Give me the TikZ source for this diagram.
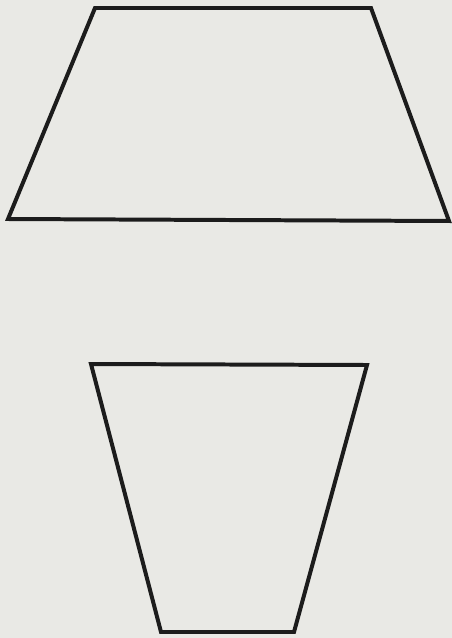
\documentclass[tikz,border=0pt]{standalone}
\usepackage{xcolor}
\definecolor{paper}{RGB}{233,233,229}
\definecolor{ink}{RGB}{28,28,28}

\begin{document}
\begin{tikzpicture}[x=0.03cm,y=-0.03cm,
  outline/.style={draw=ink,line width=3.4pt,line join=miter}]
  \fill[paper] (0,0) rectangle (452,638);
  \useasboundingbox (0,0) rectangle (452,638);
  % upper trapezoid
  \coordinate (utl) at (95,8);
  \coordinate (utr) at (371,8);
  \coordinate (ubr) at (449,221);
  \coordinate (ubl) at (8,219);
  \draw[outline] (utl)--(utr)--(ubr)--(ubl)--cycle;
  % lower trapezoid
  \coordinate (ltl) at (91,364);
  \coordinate (ltr) at (367,365);
  \coordinate (lbr) at (294,632);
  \coordinate (lbl) at (161,632);
  \draw[outline] (ltl)--(ltr)--(lbr)--(lbl)--cycle;
\end{tikzpicture}
\end{document}
